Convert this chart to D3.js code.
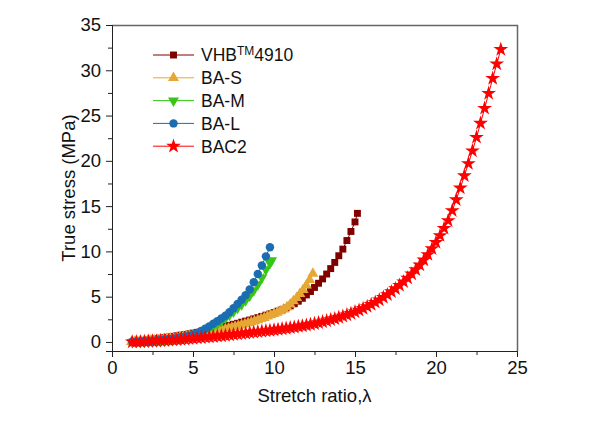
<!DOCTYPE html>
<html>
<head>
<meta charset="utf-8">
<script src="https://cdn.jsdelivr.net/npm/d3@7"></script>
<style>
    body { margin: 0; background: #fff; }
    svg text { font-family: Arial, "Liberation Sans", sans-serif; fill: #111; }
</style>
</head>
<body>
<div id="chart"></div>
<script>
// Stretch ratio / true stress data for each elastomer
var seriesNames = ["VHB\u2122 4910", "BA-S", "BA-M", "BA-L", "BAC2"];

var vhbLambda = [1.25, 1.5, 1.75, 2.0, 2.25, 2.5, 2.75, 3.0, 3.25, 3.5, 3.75, 4.0, 4.25, 4.5, 4.75, 5.0,
    5.25, 5.5, 5.75, 6.0, 6.25, 6.5, 6.75, 7.0, 7.25, 7.5, 7.75, 8.0, 8.25, 8.5, 8.75, 9.0, 9.25, 9.5,
    9.75, 10.0, 10.25, 10.5, 10.75, 11.0, 11.25, 11.5, 11.75, 12.0, 12.25, 12.5, 12.75, 13.0, 13.25,
    13.5, 13.75, 14.0, 14.25, 14.5, 14.75, 15.0, 15.15];
var vhbStress = [0.00, 0.06, 0.12, 0.18, 0.24, 0.30, 0.36, 0.42, 0.48, 0.54, 0.61, 0.68, 0.75, 0.82, 0.90, 0.98,
    1.06, 1.14, 1.23, 1.32, 1.42, 1.52, 1.62, 1.73, 1.84, 1.95, 2.06, 2.18, 2.30, 2.42, 2.55, 2.68, 2.82, 2.96,
    3.10, 3.25, 3.40, 3.56, 3.76, 3.98, 4.22, 4.50, 4.82, 5.19, 5.57, 6.02, 6.48, 6.96, 7.50,
    8.10, 8.78, 9.52, 10.25, 11.20, 12.20, 13.25, 14.20];

var basLambda = [1.2, 1.4, 1.6, 1.8, 2.0, 2.2, 2.4, 2.6, 2.8, 3.0, 3.2, 3.4, 3.6, 3.8, 4.0, 4.2, 4.4, 4.6, 4.8,
    5.0, 5.2, 5.4, 5.6, 5.8, 6.0, 6.2, 6.4, 6.6, 6.8, 7.0, 7.2, 7.4, 7.6, 7.8, 8.0, 8.2, 8.4, 8.6, 8.8,
    9.0, 9.2, 9.4, 9.6, 9.8, 10.0, 10.2, 10.4, 10.6, 10.8, 11.0, 11.2, 11.4, 11.6, 11.8, 12.0, 12.2, 12.4];
var basStress = [0.00, 0.02, 0.05, 0.08, 0.11, 0.14, 0.17, 0.20, 0.24, 0.28, 0.32, 0.36, 0.40, 0.44, 0.49, 0.54, 0.59, 0.64, 0.69,
    0.75, 0.81, 0.87, 0.93, 0.99, 1.06, 1.13, 1.20, 1.27, 1.35, 1.43, 1.51, 1.60, 1.69, 1.78, 1.88, 1.98, 2.08, 2.19, 2.30,
    2.42, 2.54, 2.67, 2.82, 2.96, 3.10, 3.25, 3.42, 3.60, 3.85, 4.15, 4.50, 4.88, 5.30, 5.75, 6.25, 6.85, 7.55];

var bamLambda = [1.25, 1.5, 1.75, 2.0, 2.25, 2.5, 2.75, 3.0, 3.25, 3.5, 3.75, 4.0, 4.25, 4.5, 4.75, 5.0,
    5.25, 5.5, 5.75, 6.0, 6.25, 6.5, 6.75, 7.0, 7.25, 7.5, 7.75, 8.0, 8.25, 8.5, 8.75, 9.0, 9.25, 9.5, 9.75, 9.85];
var bamStress = [-0.02, 0.00, 0.00, 0.01, 0.02, 0.04, 0.06, 0.09, 0.13, 0.18, 0.23, 0.30, 0.38, 0.48, 0.60, 0.74,
    0.90, 1.08, 1.28, 1.50, 1.74, 2.00, 2.30, 2.62, 2.98, 3.35, 3.75, 4.15, 4.60, 5.10, 5.70, 6.35, 7.10, 8.00, 8.70, 9.00];

var balLambda = [1.25, 1.5, 1.75, 2.0, 2.25, 2.5, 2.75, 3.0, 3.25, 3.5, 3.75, 4.0, 4.25, 4.5, 4.75, 5.0,
    5.25, 5.5, 5.75, 6.0, 6.25, 6.5, 6.75, 7.0, 7.25, 7.5, 7.75, 8.0, 8.25, 8.5, 8.75, 9.0, 9.25, 9.5, 9.75];
var balStress = [0.00, 0.02, 0.04, 0.07, 0.10, 0.14, 0.18, 0.23, 0.28, 0.33, 0.39, 0.45, 0.52, 0.60, 0.70, 0.82,
    0.98, 1.20, 1.45, 1.72, 2.00, 2.28, 2.58, 2.90, 3.28, 3.72, 4.18, 4.65, 5.15, 5.80, 6.60, 7.50, 8.45, 9.45, 10.45];

var bac2Lambda = [1.25, 1.5, 1.75, 2.0, 2.25, 2.5, 2.75, 3.0, 3.25, 3.5, 3.75, 4.0, 4.25, 4.5, 4.75, 5.0,
    5.25, 5.5, 5.75, 6.0, 6.25, 6.5, 6.75, 7.0, 7.25, 7.5, 7.75, 8.0, 8.25, 8.5, 8.75, 9.0, 9.25, 9.5, 9.75,
    10.0, 10.25, 10.5, 10.75, 11.0, 11.25, 11.5, 11.75, 12.0, 12.25, 12.5, 12.75, 13.0, 13.25, 13.5, 13.75,
    14.0, 14.25, 14.5, 14.75, 15.0, 15.25, 15.5, 15.75, 16.0, 16.25, 16.5, 16.75, 17.0, 17.25, 17.5, 17.75,
    18.0, 18.25, 18.5, 18.75, 19.0, 19.25, 19.5, 19.75, 20.0, 20.25, 20.5, 20.75, 21.0, 21.25, 21.5, 21.75,
    22.0, 22.25, 22.5, 22.75, 23.0, 23.25, 23.5, 23.75, 24.0];
var bac2Stress = [0.00, 0.01, 0.03, 0.05, 0.07, 0.09, 0.11, 0.13, 0.16, 0.19, 0.22, 0.25, 0.28, 0.31, 0.35, 0.39,
    0.43, 0.47, 0.51, 0.55, 0.59, 0.63, 0.67, 0.72, 0.77, 0.82, 0.87, 0.92, 0.97, 1.02, 1.07, 1.12, 1.17, 1.22, 1.27,
    1.32, 1.38, 1.44, 1.50, 1.56, 1.63, 1.70, 1.77, 1.85, 1.93, 2.02, 2.12, 2.22, 2.33, 2.45, 2.57,
    2.70, 2.84, 2.99, 3.15, 3.32, 3.50, 3.70, 3.91, 4.14, 4.38, 4.64, 4.92, 5.22, 5.54, 5.88, 6.25,
    6.64, 7.05, 7.50, 7.98, 8.50, 9.05, 9.65, 10.30, 11.00, 11.75, 12.55, 13.40, 14.50, 15.70, 17.00, 18.35,
    19.70, 21.10, 22.60, 24.15, 25.80, 27.45, 29.10, 30.70, 32.30];

var seriesColors = ["#800000", "#e6a735", "#36c716", "#1b6db2", "#ff0000"];

var xTicks = [0, 5, 10, 15, 20, 25];
var yTicks = [0, 5, 10, 15, 20, 25, 30, 35];

var width = 589, height = 421;
var margin = {left: 112, right: 72, top: 25, bottom: 70};
var tickFont = 18.5;

var svg = d3.select("#chart").append("svg")
    .attr("width", width)
    .attr("height", height);

var x = d3.scaleLinear().domain([0, 25]).range([margin.left, width - margin.right]);
var y = d3.scaleLinear().domain([-1, 35]).range([height - margin.bottom, margin.top]);

// top / right frame lines
svg.append("path")
    .attr("d", "M" + x(0) + "," + (y(35) + 0.5) + "H" + (x(25) + 0.5) + "V" + y(-1))
    .attr("fill", "none")
    .attr("stroke", "#666")
    .attr("stroke-width", 1.5);

// axes with major ticks plus minor ticks between
function drawXAxis() {
    var g = svg.append("g").attr("transform", "translate(0," + y(-1) + ")");
    g.call(d3.axisBottom(x).tickValues(xTicks).tickSize(6).tickPadding(4).tickFormat(d3.format("d")));
    g.append("g").call(d3.axisBottom(x).tickValues([2.5, 7.5, 12.5, 17.5, 22.5]).tickSize(4).tickFormat(""))
        .select(".domain").remove();
    g.selectAll("text").attr("font-size", tickFont).style("font-family", "Arial, 'Liberation Sans', sans-serif");
    g.selectAll("line, path").attr("stroke", "#222");
}

function drawYAxis() {
    var g = svg.append("g").attr("transform", "translate(" + x(0) + ",0)");
    g.call(d3.axisLeft(y).tickValues(yTicks).tickSize(6).tickPadding(5).tickFormat(d3.format("d")));
    g.append("g").call(d3.axisLeft(y).tickValues([2.5, 7.5, 12.5, 17.5, 22.5, 27.5, 32.5]).tickSize(4).tickFormat(""))
        .select(".domain").remove();
    g.selectAll("text").attr("font-size", tickFont).style("font-family", "Arial, 'Liberation Sans', sans-serif");
    g.selectAll("line, path").attr("stroke", "#222");
}

drawXAxis();
drawYAxis();

svg.append("text")
    .attr("x", (x(0) + x(25)) / 2)
    .attr("y", 402)
    .attr("text-anchor", "middle")
    .attr("font-size", tickFont)
    .text("Stretch ratio,\u03bb");

svg.append("text")
    .attr("transform", "translate(75," + ((y(-1) + y(35)) / 2) + ") rotate(-90)")
    .attr("text-anchor", "middle")
    .attr("font-size", tickFont)
    .text("True stress (MPa)");

// marker shapes per series
var symbols = [
    {type: d3.symbolSquare, size: 48, rot: 0},
    {type: d3.symbolTriangle, size: 52, rot: 0},
    {type: d3.symbolTriangle, size: 52, rot: 180},
    {type: d3.symbolCircle, size: 56, rot: 0},
    {type: d3.symbolStar, size: 68, rot: 0}
];

var allSeries = [
    d3.zip(vhbLambda, vhbStress),
    d3.zip(basLambda, basStress),
    d3.zip(bamLambda, bamStress),
    d3.zip(balLambda, balStress),
    d3.zip(bac2Lambda, bac2Stress)
];

var line = d3.line().x(function(d) { return x(d[0]); }).y(function(d) { return y(d[1]); });

allSeries.forEach(function(data, i) {
    var g = svg.append("g");
    g.append("path")
        .attr("d", line(data))
        .attr("fill", "none")
        .attr("stroke", seriesColors[i])
        .attr("stroke-width", 1);
    var sym = d3.symbol().type(symbols[i].type).size(symbols[i].size);
    g.selectAll("path.pt")
        .data(data)
        .enter().append("path")
        .attr("class", "pt")
        .attr("d", sym)
        .attr("transform", function(d) {
            return "translate(" + x(d[0]) + "," + y(d[1]) + ") rotate(" + symbols[i].rot + ")";
        })
        .attr("fill", seriesColors[i]);
});

// legend
var legend = svg.append("g").attr("transform", "translate(153,55)");
seriesNames.forEach(function(name, i) {
    var row = legend.append("g").attr("transform", "translate(0," + (i * 22.8) + ")");
    row.append("line")
        .attr("x1", 0).attr("x2", 41)
        .attr("y1", 0).attr("y2", 0)
        .attr("stroke", seriesColors[i])
        .attr("stroke-width", 1);
    row.append("path")
        .attr("d", d3.symbol().type(symbols[i].type).size(symbols[i].size))
        .attr("transform", "translate(20.5,0) rotate(" + symbols[i].rot + ")")
        .attr("fill", seriesColors[i]);
    var t = row.append("text")
        .attr("x", 48)
        .attr("y", 6.3)
        .attr("font-size", 17.5);
    if (i === 0) {
        t.append("tspan").text("VHB");
        t.append("tspan").attr("font-size", 12).attr("dy", -6).text("TM");
        t.append("tspan").attr("dy", 6).text("4910");
    } else {
        t.text(name);
    }
});
</script>
</body>
</html>
